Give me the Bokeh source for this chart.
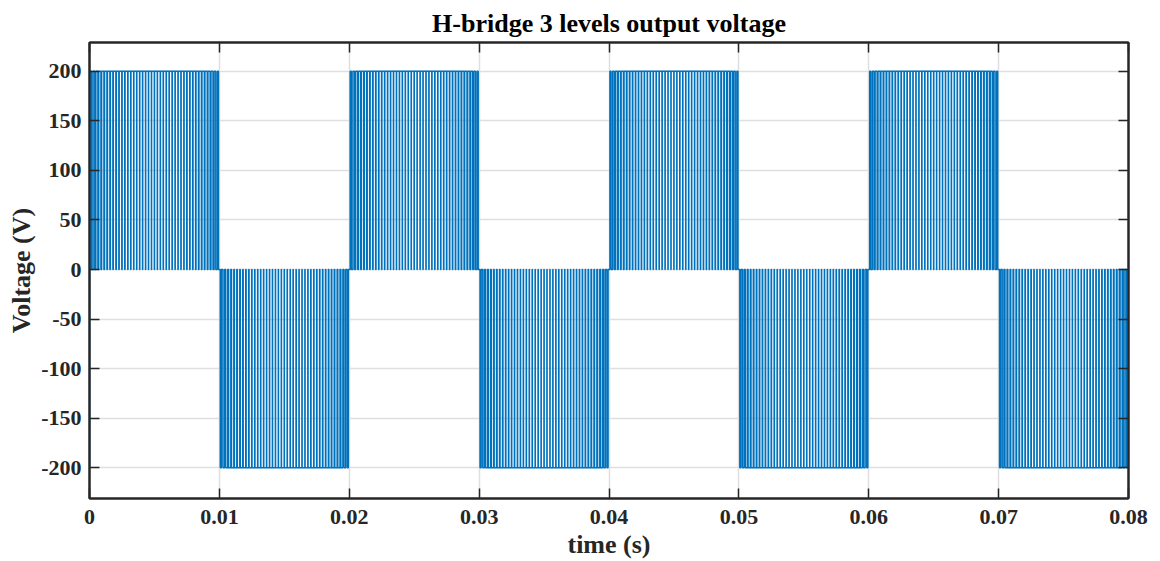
from bokeh.plotting import figure
from bokeh.models import FixedTicker, LinearAxis, Range1d, Title
from bokeh.embed import file_html
from bokeh.resources import INLINE

# Switching pattern of the H-bridge output
half_cycle_starts = [0.0, 0.01, 0.02, 0.03, 0.04, 0.05, 0.06, 0.07]
half_cycle_levels = [200, -200, 200, -200, 200, -200, 200, -200]
pulse_period = 0.01 / 44
# pulse duty (fraction of each switching period) across one half-cycle
pulse_duty = [0.40, 0.55, 0.66, 0.72, 0.76, 0.78, 0.80, 0.82, 0.84, 0.85, 0.86,
              0.87, 0.88, 0.89, 0.89, 0.90, 0.90, 0.89, 0.91, 0.90, 0.92, 0.90,
              0.90, 0.92, 0.90, 0.91, 0.89, 0.90, 0.90, 0.89, 0.89, 0.88, 0.87,
              0.86, 0.85, 0.84, 0.82, 0.80, 0.78, 0.76, 0.72, 0.66, 0.55, 0.40]
initial_time = [0.0]
initial_level = [-200]

x_ticks = [0, 0.01, 0.02, 0.03, 0.04, 0.05, 0.06, 0.07, 0.08]
x_tick_labels = ["0", "0.01", "0.02", "0.03", "0.04", "0.05", "0.06", "0.07", "0.08"]
y_ticks = [-200, -150, -100, -50, 0, 50, 100, 150, 200]
y_tick_labels = ["-200", "-150", "-100", "-50", "0", "50", "100", "150", "200"]

# Build the step waveform from the pulse pattern
ts = list(initial_time)
vs = list(initial_level)
ts.append(initial_time[0]); vs.append(0)
for t0, lvl in zip(half_cycle_starts, half_cycle_levels):
    for k, d in enumerate(pulse_duty):
        c = t0 + (k + 0.5) * pulse_period
        a = c - d * pulse_period / 2
        b = c + d * pulse_period / 2
        ts += [a, a, b, b]
        vs += [0, lvl, lvl, 0]

FONT = "Liberation Serif"
BLUE = "#0072BD"
INK = "#262626"

p = figure(width=1160, height=561, output_backend="svg", toolbar_location=None,
           x_range=Range1d(0, 0.08), y_range=Range1d(-231, 229),
           min_border_left=89, min_border_right=32, min_border_top=42,
           min_border_bottom=63)

p.line(ts, vs, line_color=BLUE, line_width=1.4)

p.title = Title(text="H-bridge 3 levels output voltage", align="center",
                text_font=FONT, text_font_size="26px", text_font_style="bold",
                text_color="#000000", offset=0, standoff=9)

p.xaxis.ticker = FixedTicker(ticks=x_ticks)
p.xaxis.major_label_overrides = {t: s for t, s in zip(x_ticks, x_tick_labels)}
p.yaxis.ticker = FixedTicker(ticks=y_ticks)
p.yaxis.major_label_overrides = {t: s for t, s in zip(y_ticks, y_tick_labels)}
p.xaxis.axis_label = "time (s)"
p.yaxis.axis_label = "Voltage (V)"

for ax in (p.xaxis[0], p.yaxis[0]):
    ax.axis_label_text_font = FONT
    ax.axis_label_text_font_size = "26px"
    ax.axis_label_text_font_style = "bold"
    ax.axis_label_text_color = INK
    ax.major_label_text_font = FONT
    ax.major_label_text_font_size = "22px"
    ax.major_label_text_font_style = "bold"
    ax.major_label_text_color = INK
    ax.axis_line_color = INK
    ax.axis_line_width = 2
    ax.major_tick_in = 10
    ax.major_tick_out = 0
    ax.major_tick_line_color = INK
    ax.major_tick_line_width = 1.5
    ax.minor_tick_line_color = None

p.xaxis.axis_label_standoff = 3
p.yaxis.axis_label_standoff = 2
p.xaxis.major_label_standoff = 11
p.yaxis.major_label_standoff = 8

# mirrored ticks on the right and top of the box
for loc, tick in (("right", y_ticks), ("above", x_ticks)):
    ax = LinearAxis(ticker=FixedTicker(ticks=tick),
                    major_label_overrides={t: "" for t in tick},
                    major_label_standoff=0, axis_line_color=INK, axis_line_width=2,
                    major_tick_in=10, major_tick_out=0, major_tick_line_color=INK,
                    major_tick_line_width=1.5, minor_tick_line_color=None)
    p.add_layout(ax, loc)

p.grid.grid_line_color = "#dfdfdf"
p.grid.grid_line_width = 1.5
p.outline_line_color = INK
p.outline_line_width = 2
p.background_fill_color = "white"
p.border_fill_color = "white"

open("out.html", "w").write(file_html(p, INLINE))
